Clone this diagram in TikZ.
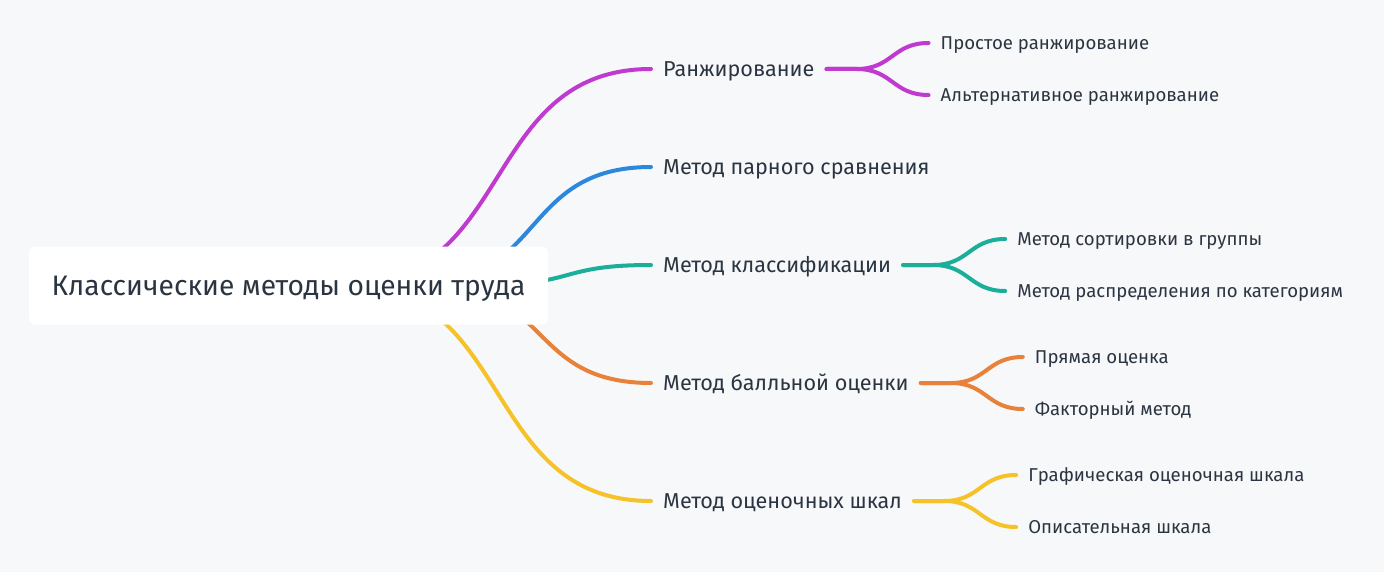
\documentclass[tikz,border=0pt]{standalone}
\usepackage{fontspec}
\setmainfont{Fira Sans}
\usetikzlibrary{calc}
\definecolor{bg}{HTML}{F7F8FA}
\definecolor{ink}{HTML}{2B3542}
\definecolor{cmag}{HTML}{C03ACF}
\definecolor{cblue}{HTML}{2B88DC}
\definecolor{cteal}{HTML}{1BAE9A}
\definecolor{corange}{HTML}{E8823A}
\definecolor{cyellow}{HTML}{F6C22A}
\begin{document}
\begin{tikzpicture}[x=1pt,y=-1pt,
  rootbox/.style={font=\fontsize{28.2}{32}\selectfont, text=ink, fill=white, rounded corners=6pt,
    minimum width=519pt, minimum height=78pt, inner sep=0pt, text height=19.4pt, text depth=0pt},
  lvlone/.style={font=\fontsize{21.6}{25}\selectfont, text=ink, anchor=west, inner xsep=12pt, inner ysep=0pt,
    text height=14.9pt, text depth=0pt},
  lvltwo/.style={font=\fontsize{18.6}{22}\selectfont, text=ink, anchor=west, inner xsep=12pt, inner ysep=0pt,
    text height=12.8pt, text depth=0pt},
  br/.style={line width=4pt, line cap=round},
]
\fill[bg] (0,0) rectangle (1384,572);
\useasboundingbox (0,0) rectangle (1384,572);

% level 1
\node[lvlone] (c1) at (651,69) {Ранжирование};
\node[lvlone] (c2) at (651,167) {Метод парного сравнения};
\node[lvlone] (c3) at (651,265) {Метод классификации};
\node[lvlone] (c4) at (651,383) {Метод балльной оценки};
\node[lvlone] (c5) at (651,501) {Метод оценочных шкал};

% level 2
\node[lvltwo] (c11) at ($(c1.east)+(102,-26)$) {Простое ранжирование};
\node[lvltwo] (c12) at ($(c1.east)+(102,26)$) {Альтернативное ранжирование};
\node[lvltwo] (c31) at ($(c3.east)+(102,-26)$) {Метод сортировки в группы};
\node[lvltwo] (c32) at ($(c3.east)+(102,26)$) {Метод распределения по категориям};
\node[lvltwo] (c41) at ($(c4.east)+(102,-26)$) {Прямая оценка};
\node[lvltwo] (c42) at ($(c4.east)+(102,26)$) {Факторный метод};
\node[lvltwo] (c51) at ($(c5.east)+(102,-26)$) {Графическая оценочная шкала};
\node[lvltwo] (c52) at ($(c5.east)+(102,26)$) {Описательная шкала};

% start points of main branches (hidden behind root box)
\coordinate (s1) at (344,285);
\coordinate (s2) at (414,285);
\coordinate (s3) at (484,285);
\coordinate (s4) at (428,285);
\coordinate (s5) at (344,285);

\draw[br,cmag] (s1) .. controls +(171,0) and +(-171,0) .. (c1.west);
\draw[br,cblue] (s2) .. controls +(132,0) and +(-132,0) .. (c2.west);
\draw[br,cteal] (s3) .. controls +(93,0) and +(-93,0) .. (c3.west);
\draw[br,corange] (s4) .. controls +(124,0) and +(-124,0) .. (c4.west);
\draw[br,cyellow] (s5) .. controls +(171,0) and +(-171,0) .. (c5.west);

% sub branches
\draw[br,cmag] (c1.east) -- ++(30,0) .. controls +(36,0) and +(-36,0) .. (c11.west);
\draw[br,cmag] (c1.east) -- ++(30,0) .. controls +(36,0) and +(-36,0) .. (c12.west);
\draw[br,cteal] (c3.east) -- ++(30,0) .. controls +(36,0) and +(-36,0) .. (c31.west);
\draw[br,cteal] (c3.east) -- ++(30,0) .. controls +(36,0) and +(-36,0) .. (c32.west);
\draw[br,corange] (c4.east) -- ++(30,0) .. controls +(36,0) and +(-36,0) .. (c41.west);
\draw[br,corange] (c4.east) -- ++(30,0) .. controls +(36,0) and +(-36,0) .. (c42.west);
\draw[br,cyellow] (c5.east) -- ++(30,0) .. controls +(36,0) and +(-36,0) .. (c51.west);
\draw[br,cyellow] (c5.east) -- ++(30,0) .. controls +(36,0) and +(-36,0) .. (c52.west);

% root
\node[rootbox] (root) at (288.5,285.5) {Классические методы оценки труда};
\end{tikzpicture}
\end{document}
